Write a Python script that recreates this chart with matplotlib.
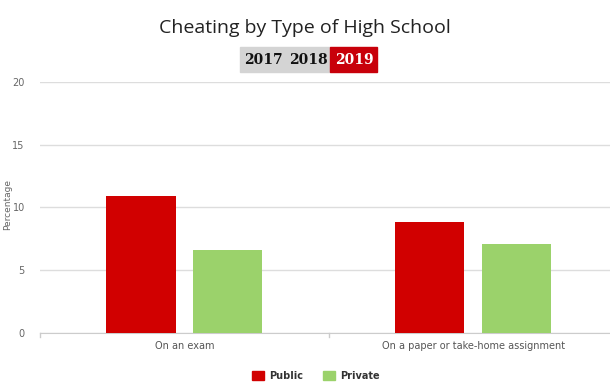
import matplotlib.pyplot as plt
import matplotlib.patches as mpatches
import numpy as np

categories = ["On an exam", "On a paper or take-home assignment"]
public = [10.9, 8.85]
private = [6.6, 7.1]
years = ["2017", "2018", "2019"]

red = "#d10000"
green = "#9bd26b"

fig = plt.figure(figsize=(6.1, 3.9), dpi=100)
ax = fig.add_axes([40 / 610, 1 - 333 / 390, 570 / 610, 251 / 390])

x = np.arange(len(categories))
w = 0.24
ax.bar(x - 0.15, public, w, color=red, zorder=3)
ax.bar(x + 0.15, private, w, color=green, zorder=3)

ax.set_xlim(-0.5, 1.474)
ax.set_ylim(0, 20)
ax.set_yticks([0, 5, 10, 15, 20])
ax.yaxis.grid(True, color="#dddddd", linewidth=1)
ax.set_axisbelow(True)
for s in ["top", "right", "left"]:
    ax.spines[s].set_visible(False)
ax.spines["bottom"].set_color("#cccccc")
ax.tick_params(axis="y", length=0, labelsize=7, labelcolor="#666666", pad=11)
ax.set_xticks(x)
ax.set_xticklabels(categories, fontsize=7, color="#555555")
ax.tick_params(axis="x", length=0, pad=6)
# category boundary ticks
for b in [-0.5, 0.5]:
    ax.plot([b, b], [0, -0.35], color="#cccccc", lw=1, clip_on=False)
fig.text(8 / 610, 1 - 205 / 390, "Percentage", rotation=90, ha="center", va="center",
         fontsize=6.5, color="#666666")

fig.text(0.5, 1 - 28 / 390, "Cheating by Type of High School", ha="center", va="center",
         fontsize=14, family="Open Sans", color="#222222")

# year selector
fig.patches.append(mpatches.Rectangle((240 / 610, 1 - 72 / 390), 90 / 610, 25 / 390,
                                      transform=fig.transFigure, color="#d4d4d4"))
fig.patches.append(mpatches.Rectangle((330 / 610, 1 - 72 / 390), 47 / 610, 25 / 390,
                                      transform=fig.transFigure, color="#c8000a"))
for yr, xp, c in zip(years, [263, 308, 354], ["#111111", "#111111", "white"]):
    fig.text(xp / 610, 1 - 60 / 390, yr, ha="center", va="center", fontsize=10,
             family="DejaVu Serif", weight="bold", color=c)

# legend
handles = [mpatches.Patch(color=red, label="Public"), mpatches.Patch(color=green, label="Private")]
leg = fig.legend(handles=handles, loc="center", bbox_to_anchor=(316 / 610, 1 - 376 / 390), ncol=2,
                 frameon=False, prop={"size": 7, "weight": "bold"}, handlelength=1.2,
                 handleheight=1.0, columnspacing=2.0, handletextpad=0.6)
for t in leg.get_texts():
    t.set_color("#333333")

plt.savefig("out.png")
